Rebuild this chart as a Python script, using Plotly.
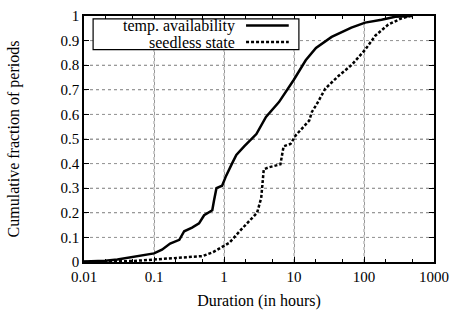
import plotly.graph_objects as go

# Temp. availability (solid)
avail_x = [0.01, 0.02, 0.03, 0.05, 0.1, 0.13, 0.17, 0.23, 0.27, 0.35, 0.44, 0.52, 0.68, 0.72,
           0.78, 0.94, 1.07, 1.3, 1.5, 1.94, 2.28, 2.9, 3.98, 6.1, 9.9, 14.7, 20.6, 34.5, 66,
           104, 178, 280, 500]
avail_y = [0.002, 0.005, 0.01, 0.02, 0.035, 0.05, 0.075, 0.09, 0.125, 0.14, 0.157, 0.19, 0.21, 0.25,
           0.30, 0.31, 0.35, 0.40, 0.435, 0.47, 0.49, 0.52, 0.59, 0.65, 0.74, 0.82, 0.87, 0.915, 0.953,
           0.973, 0.985, 0.997, 1.0]

# Seedless state (dotted)
seed_x = [0.01, 0.05, 0.1, 0.2, 0.49, 0.7, 0.93, 1.19, 1.83, 2.97, 3.4, 3.7, 4.4, 6.4, 7.1, 8.9,
          10.6, 12.6, 16.5, 18, 21, 28, 43.5, 66, 104, 145, 222, 340, 450]
seed_y = [0.0, 0.004, 0.01, 0.016, 0.024, 0.04, 0.06, 0.078, 0.137, 0.2, 0.26, 0.377, 0.385, 0.397,
          0.47, 0.48, 0.515, 0.54, 0.575, 0.61, 0.64, 0.705, 0.757, 0.8, 0.863, 0.92, 0.965, 0.99, 1.0]

x_ticks = [0.01, 0.1, 1, 10, 100, 1000]
x_tick_text = ["0.01", "0.1", "1", "10", "100", "1000"]
y_ticks = [0, 0.1, 0.2, 0.3, 0.4, 0.5, 0.6, 0.7, 0.8, 0.9, 1]
y_tick_text = ["0", "0.1", "0.2", "0.3", "0.4", "0.5", "0.6", "0.7", "0.8", "0.9", "1"]

legend_names = ["temp. availability", "seedless state"]

FONT = "'Liberation Serif', 'Times New Roman', Times, serif"

fig = go.Figure()
fig.add_trace(go.Scatter(x=avail_x, y=avail_y, mode="lines", name=legend_names[0],
                         line=dict(color="black", width=2.5), showlegend=False))
fig.add_trace(go.Scatter(x=seed_x, y=seed_y, mode="lines", name=legend_names[1],
                         line=dict(color="black", width=2.5, dash="3px,2px"), showlegend=False))

axis_common = dict(showline=True, linecolor="black", linewidth=1.5, mirror="allticks",
                   ticks="inside", ticklen=5, tickcolor="black",
                   showgrid=True, gridcolor="#999999", griddash="dot", gridwidth=1,
                   zeroline=False, tickfont=dict(family=FONT, size=15, color="black"))

fig.update_xaxes(type="log", range=[-2, 3], tickvals=x_ticks, ticktext=x_tick_text,
                 title=dict(text="Duration (in hours)", font=dict(family=FONT, size=16, color="black"),
                            standoff=11),
                 minor=dict(ticks="inside", ticklen=3, tickcolor="black", showgrid=False),
                 **axis_common)
fig.update_yaxes(range=[0, 1], tickvals=y_ticks, ticktext=y_tick_text,
                 title=dict(text="Cumulative fraction of periods",
                            font=dict(family=FONT, size=16, color="black"), standoff=37),
                 **axis_common)

# Dotted grid drawn at the tick values (below the data)
grid_line = dict(color="#999999", width=1, dash="dot")
shapes = []
for xv in x_ticks[1:-1]:
    shapes.append(dict(type="line", xref="x", yref="paper", x0=xv, x1=xv, y0=0, y1=1,
                       line=grid_line, layer="below"))
for yv in y_ticks[1:-1]:
    shapes.append(dict(type="line", xref="paper", yref="y", x0=0, x1=1, y0=yv, y1=yv,
                       line=grid_line, layer="below"))

# Custom legend (text left, sample right), in paper coordinates
shapes.append(dict(type="rect", xref="paper", yref="paper", x0=0.026, x1=0.614, y0=0.863, y1=0.988,
                   line=dict(color="black", width=1.2), fillcolor="white", layer="above"))
annotations = []
for i, (name, dash) in enumerate(zip(legend_names, ["solid", "3px,2px"])):
    yy = 0.961 - i * 0.067
    annotations.append(dict(text=name, xref="paper", yref="paper", x=0.4375, y=yy,
                            xanchor="right", yanchor="middle", showarrow=False,
                            font=dict(family=FONT, size=16, color="black")))
    shapes.append(dict(type="line", xref="paper", yref="paper", x0=0.463, x1=0.585, y0=yy, y1=yy,
                       line=dict(color="black", width=2.5, dash=dash), layer="above"))

fig.update_layout(width=457, height=315, margin=dict(l=84, r=21, t=8, b=52),
                  plot_bgcolor="white", paper_bgcolor="white",
                  shapes=shapes, annotations=annotations,
                  font=dict(family=FONT, color="black"))

fig.write_html("out.html", config={"displayModeBar": False},
               post_script="document.body.style.margin='0';")
